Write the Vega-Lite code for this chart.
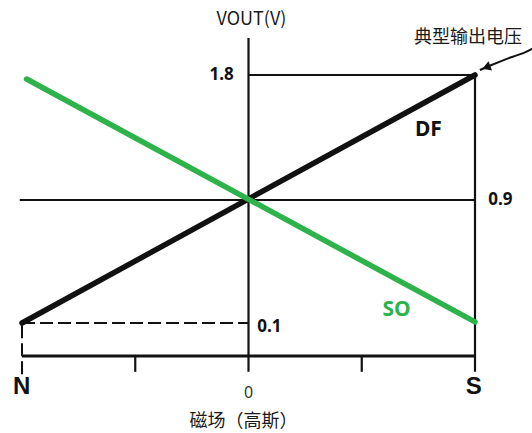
{
  "$schema": "https://vega.github.io/schema/vega-lite/v6.json",
  "width": 532,
  "height": 433,
  "autosize": {"type": "none"},
  "padding": 0,
  "background": "white",
  "config": {"view": {"stroke": null}},
  "datasets": {
    "baseAxis": [
      {"x": -2, "y": 0, "x2": 2, "y2": 0}
    ],
    "solidRules": [
      {"x": 0, "y": -0.048, "x2": 0, "y2": 2.066},
      {"x": 2, "y": -0.048, "x2": 2, "y2": 1.8},
      {"x": -2.02, "y": 0.9, "x2": 2, "y2": 0.9},
      {"x": 0, "y": 1.8, "x2": 2, "y2": 1.8},
      {"x": -1, "y": 0, "x2": -1, "y2": -0.048},
      {"x": 1, "y": 0, "x2": 1, "y2": -0.048}
    ],
    "dashedRules": [
      {"x": -2, "y": 0.1, "x2": 0, "y2": 0.1},
      {"x": -2, "y": -0.055, "x2": -2, "y2": 0.1}
    ],
    "series": [
      {"series": "DF", "x": -2, "y": 0.1},
      {"series": "DF", "x": 2, "y": 1.8},
      {"series": "SO", "x": -1.96, "y": 1.771},
      {"series": "SO", "x": 2, "y": 0.107}
    ],
    "pointer": [
      {"x": 2.043, "y": 1.836},
      {"x": 2.146, "y": 1.872},
      {"x": 2.293, "y": 1.92},
      {"x": 2.455, "y": 1.968},
      {"x": 2.514, "y": 1.992}
    ],
    "arrowhead": [{"x": 2.1, "y": 1.855}],
    "valueLabels": [
      {"label": "1.8", "x": -0.238, "y": 1.8},
      {"label": "0.9", "x": 2.225, "y": 0.9},
      {"label": "0.1", "x": 0.185, "y": 0.088}
    ],
    "seriesLabels": [
      {"series": "DF", "x": 1.589, "y": 1.404},
      {"series": "SO", "x": 1.307, "y": 0.185}
    ],
    "poleLabels": [
      {"label": "N", "x": -2.004, "y": -0.094},
      {"label": "S", "x": 1.99, "y": -0.094}
    ],
    "zeroLabel": [{"label": "0", "x": 0, "y": -0.112}],
    "titles": [
      {"label": "VOUT(V)", "x": 0.026, "y": 2.196},
      {"label": "磁场（高斯）", "x": -0.044, "y": -0.2},
      {"label": "典型输出电压", "x": 1.938, "y": 2.066}
    ]
  },
  "encoding": {
    "x": {"field": "x", "type": "quantitative", "axis": null,
          "scale": {"domain": [-2, 2], "range": [22, 475], "zero": false, "nice": false}},
    "y": {"field": "y", "type": "quantitative", "axis": null,
          "scale": {"domain": [-0.25, 0, 0.1, 0.9, 1.8, 2.3], "range": [438.5, 356, 323, 200, 75, 5.55], "zero": false, "nice": false}}
  },
  "layer": [
    {
      "data": {"name": "baseAxis"},
      "mark": {"type": "rule", "color": "#111111", "strokeWidth": 3},
      "encoding": {"x2": {"field": "x2"}, "y2": {"field": "y2"}}
    },
    {
      "data": {"name": "solidRules"},
      "mark": {"type": "rule", "color": "#111111", "strokeWidth": 2.2},
      "encoding": {"x2": {"field": "x2"}, "y2": {"field": "y2"}}
    },
    {
      "data": {"name": "dashedRules"},
      "mark": {"type": "rule", "color": "#111111", "strokeWidth": 2, "strokeDash": [13, 5]},
      "encoding": {"x2": {"field": "x2"}, "y2": {"field": "y2"}}
    },
    {
      "data": {"name": "pointer"},
      "mark": {"type": "line", "color": "#111111", "strokeWidth": 2, "interpolate": "monotone"},
      "encoding": {}
    },
    {
      "data": {"name": "arrowhead"},
      "mark": {"type": "point", "shape": "triangle-left", "filled": true, "color": "#111111", "size": 95, "angle": -21, "opacity": 1},
      "encoding": {}
    },
    {
      "data": {"name": "series"},
      "mark": {"type": "line", "strokeWidth": 5.5, "strokeCap": "round"},
      "encoding": {
        "color": {"field": "series", "type": "nominal", "legend": null,
                  "scale": {"domain": ["DF", "SO"], "range": ["#111111", "#2db34a"]}}
      }
    },
    {
      "data": {"name": "valueLabels"},
      "mark": {"type": "text", "font": "Noto Sans", "fontWeight": "bold", "fontSize": 17, "baseline": "middle", "align": "center", "color": "#111111"},
      "encoding": {"text": {"field": "label"}}
    },
    {
      "data": {"name": "seriesLabels"},
      "mark": {"type": "text", "font": "Noto Sans", "fontWeight": "bold", "fontSize": 21, "baseline": "middle", "align": "center"},
      "encoding": {
        "text": {"field": "series"},
        "color": {"field": "series", "type": "nominal", "legend": null}
      }
    },
    {
      "data": {"name": "poleLabels"},
      "mark": {"type": "text", "font": "Liberation Sans", "fontWeight": "bold", "fontSize": 24, "baseline": "middle", "align": "center", "color": "#111111"},
      "encoding": {"text": {"field": "label"}}
    },
    {
      "data": {"name": "zeroLabel"},
      "mark": {"type": "text", "font": "Noto Sans", "fontSize": 16, "baseline": "middle", "align": "center", "color": "#333333"},
      "encoding": {"text": {"field": "label"}}
    },
    {
      "data": {"name": "titles"},
      "mark": {"type": "text", "font": "Noto Sans CJK SC", "fontSize": 18, "baseline": "middle", "align": "center", "color": "#1a1a1a"},
      "encoding": {"text": {"field": "label"}}
    }
  ]
}
